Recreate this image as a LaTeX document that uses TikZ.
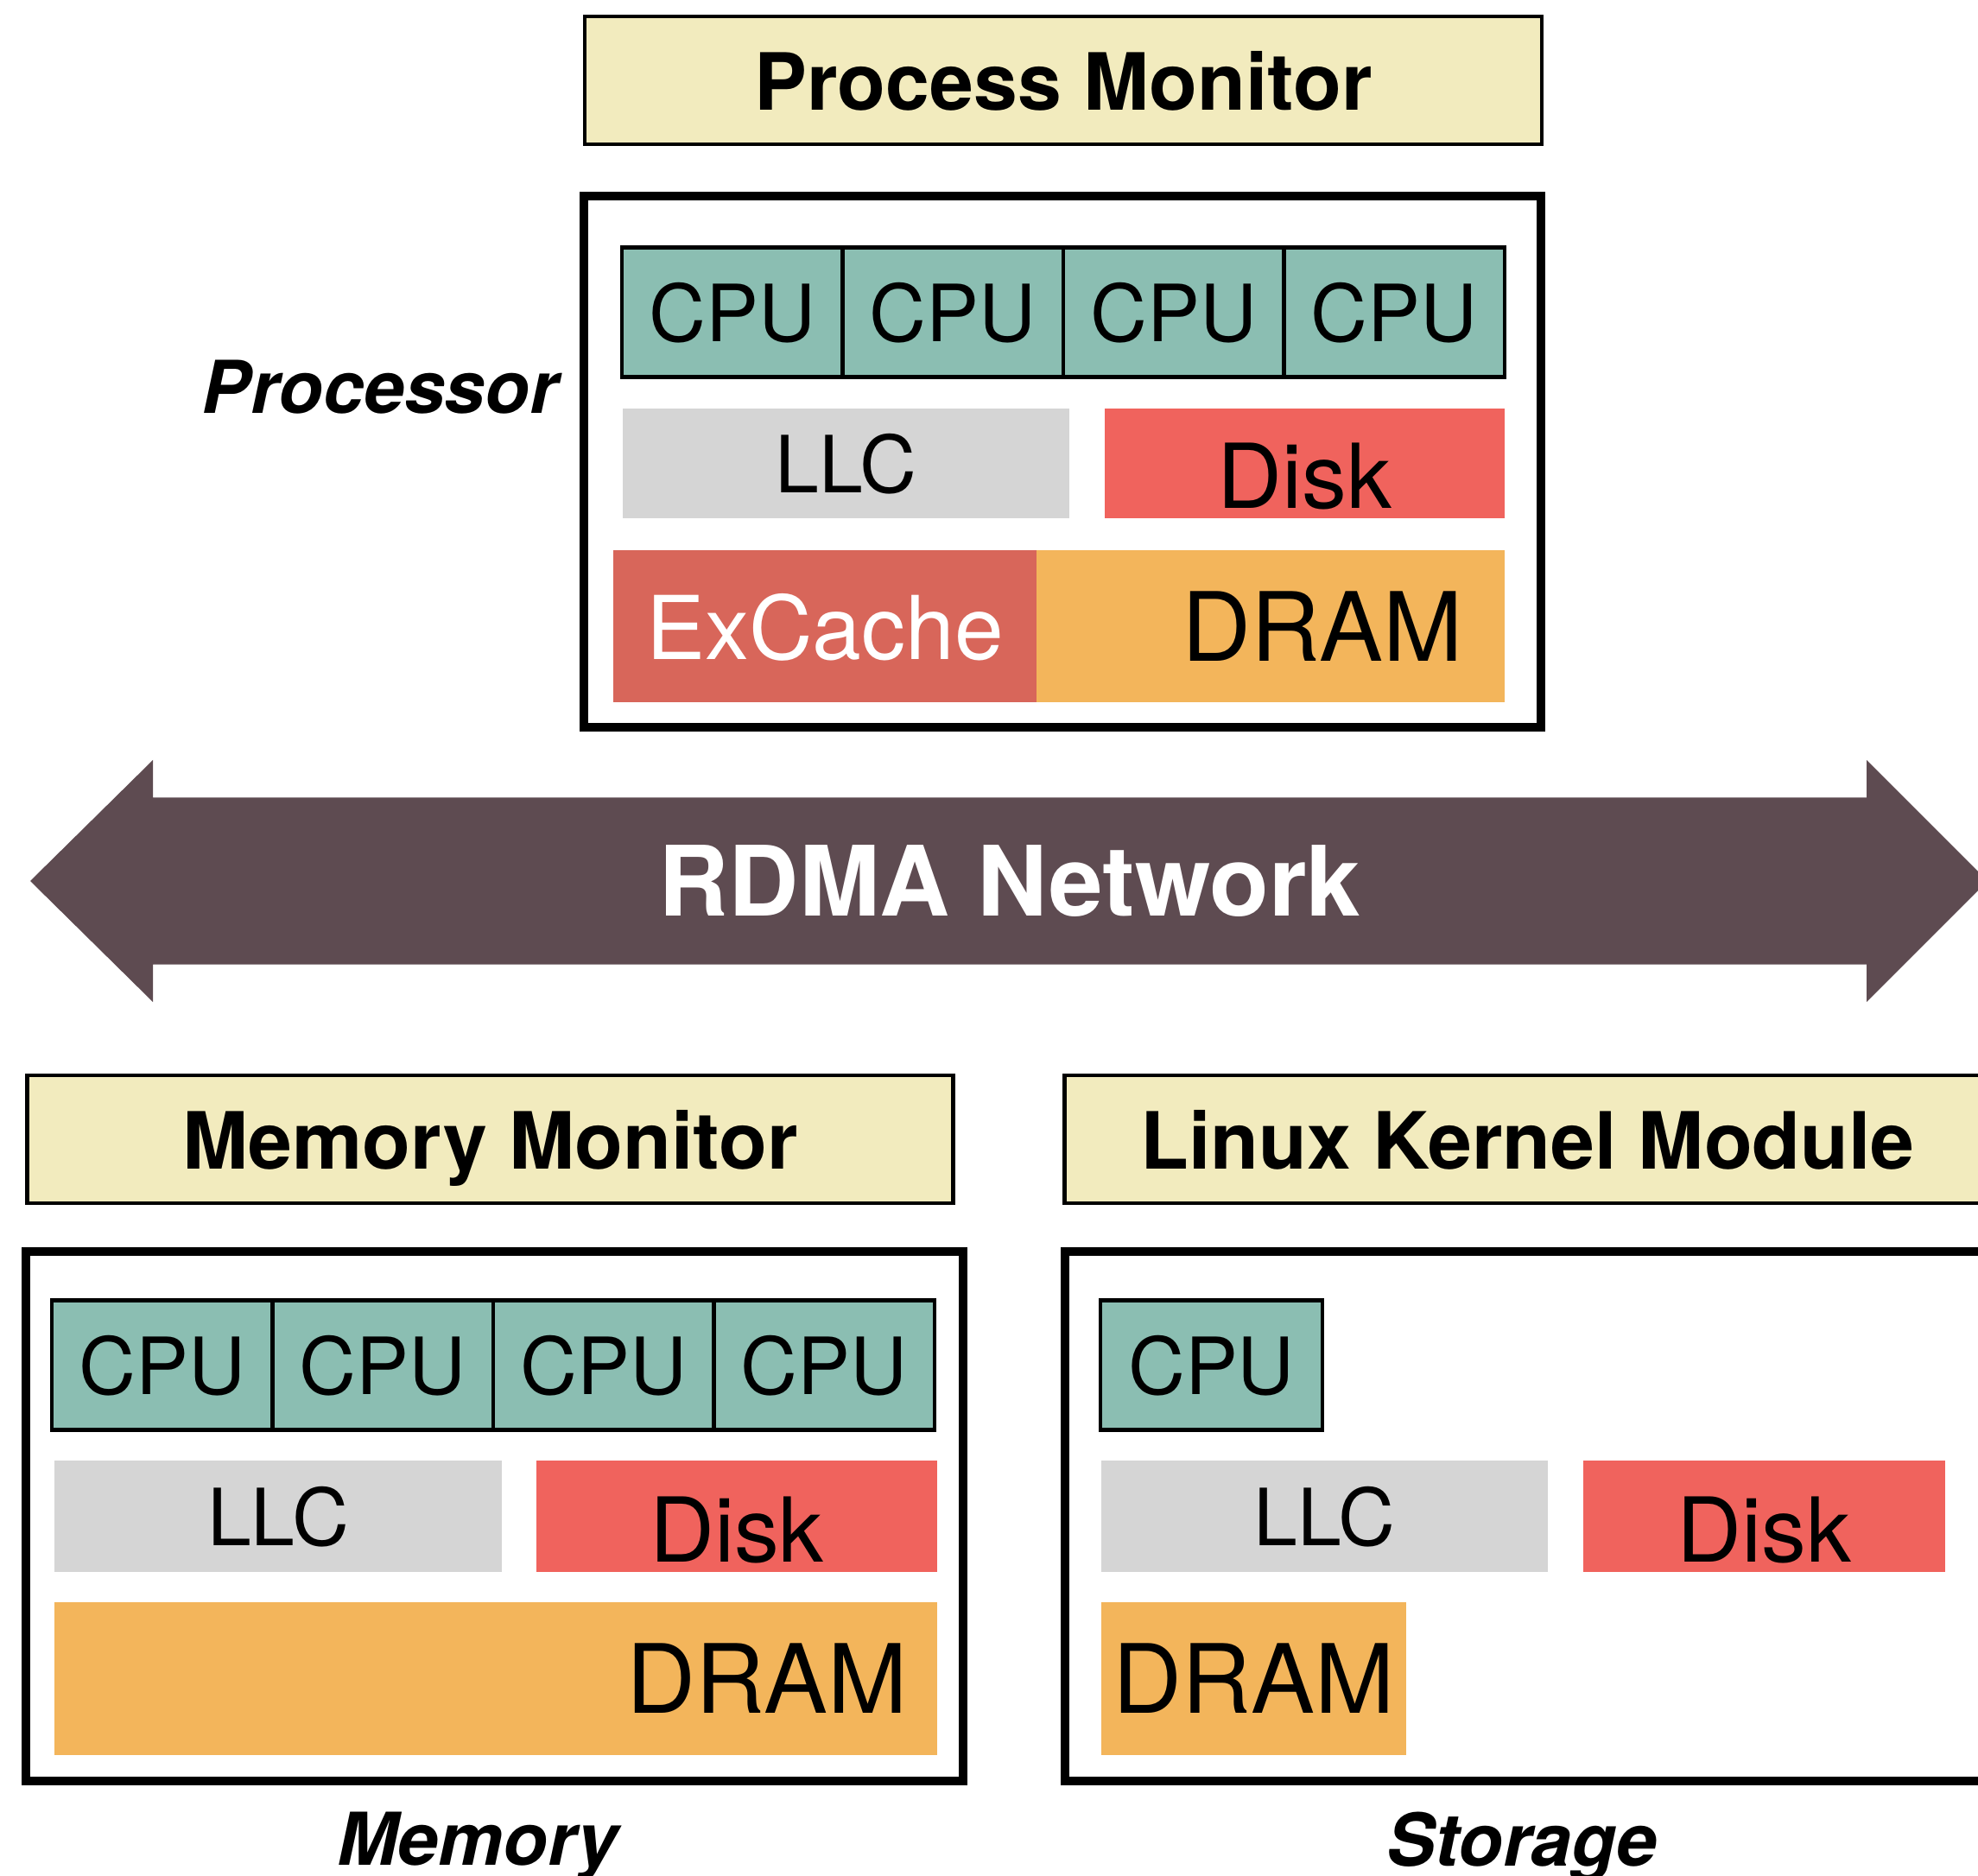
\documentclass[tikz,border=0pt]{standalone}
\usepackage{fontspec}
\setmainfont{TeX Gyre Heros}
\usetikzlibrary{positioning}
\definecolor{TitleYellow}{RGB}{242,235,190}
\definecolor{CpuTeal}{RGB}{139,190,178}
\definecolor{LlcGray}{RGB}{213,213,213}
\definecolor{DiskRed}{RGB}{240,99,93}
\definecolor{CacheRed}{RGB}{216,102,90}
\definecolor{DramOrange}{RGB}{243,181,91}
\definecolor{NetBrown}{RGB}{94,75,81}
\tikzset{
  monitor/.style={draw=black,line width=1.4pt,fill=TitleYellow,minimum width=11.08cm,minimum height=1.48cm,inner sep=0pt,text depth=0pt,font=\fontsize{26}{31}\selectfont\bfseries},
  chassis/.style={draw=black,line width=2.85pt,fill=white,minimum width=11.08cm,minimum height=6.15cm,inner sep=0pt},
  part/.style={inner sep=0pt,outer sep=0pt,text depth=0pt},
}
\tikzset{cpu/.style={part,draw=black,line width=1.2pt,fill=CpuTeal,minimum width=2.555cm,minimum height=1.5cm,font=\fontsize{26}{31}\selectfont},
  llc/.style={part,fill=LlcGray,minimum height=1.27cm,font=\fontsize{26}{31}\selectfont},
  disk/.style={part,fill=DiskRed,minimum height=1.27cm,text height=1.05cm,font=\fontsize{29.5}{35}\selectfont},
  xcache/.style={part,fill=CacheRed,text=white,minimum height=1.76cm,font=\fontsize{29}{35}\selectfont},
  dram/.style={part,fill=DramOrange,minimum height=1.76cm,font=\fontsize{31.5}{38}\selectfont},
  role/.style={inner sep=0pt,text depth=0pt,font=\fontsize{24}{29}\selectfont\bfseries\itshape},
  net/.style={text=white,inner sep=0pt,text depth=0pt,font=\fontsize{32}{38}\selectfont\bfseries}}

\begin{document}
\begin{tikzpicture}
\useasboundingbox (0,0) rectangle (22.9,-21.72);
% processor node
\node[monitor](pmon) at (12.31,-0.93){Process Monitor};
\node[chassis](procbox) at (12.30,-5.345){};
\node[cpu](pcpu1) at (8.4775,-3.615){CPU};\node[cpu,right=0pt of pcpu1](pcpu2){CPU};
\node[cpu,right=0pt of pcpu2](pcpu3){CPU};\node[cpu,right=0pt of pcpu3](pcpu4){CPU};
\node[llc,minimum width=5.17cm](pllc) at (9.795,-5.365){LLC};
\node[disk,minimum width=4.63cm](pdisk) at (15.105,-5.365){Disk};
\node[xcache,minimum width=4.9cm](pxcache) at (9.55,-7.25){ExCache};
\node[dram,text width=4.46cm,inner xsep=0.48cm,align=right](pdram) at (14.71,-7.25){DRAM};
\node[role](proclab) at (4.40,-4.475){Processor};
% network
\fill[NetBrown] (0.35,-10.2)--(1.77,-8.8)--(1.77,-9.235)--(21.61,-9.235)--(21.61,-8.8)--(23.01,-10.2)--(21.61,-11.6)--(21.61,-11.165)--(1.77,-11.165)--(1.77,-11.6)--cycle;
\node[net](rdma) at (11.69,-10.2){RDMA Network};
% memory node
\node[monitor,minimum width=10.72cm](mmon) at (5.675,-13.19){Memory Monitor};
\node[chassis,minimum width=10.85cm,minimum height=6.13cm](membox) at (5.725,-17.555){};
\node[cpu](mcpu1) at (1.8775,-15.805){CPU};\node[cpu,right=0pt of mcpu1](mcpu2){CPU};
\node[cpu,right=0pt of mcpu2](mcpu3){CPU};\node[cpu,right=0pt of mcpu3](mcpu4){CPU};
\node[llc,minimum width=5.18cm,minimum height=1.29cm](mllc) at (3.22,-17.555){LLC};
\node[disk,minimum width=4.64cm,minimum height=1.29cm](mdisk) at (8.53,-17.555){Disk};
\node[dram,minimum height=1.77cm,text width=9.54cm,inner xsep=0.34cm,align=right](mdram) at (5.74,-19.435){DRAM};
\node[role](memlab) at (5.53,-21.29){Memory};
% storage node
\node[monitor,minimum width=10.72cm](lkm) at (17.685,-13.19){Linux Kernel Module};
\node[chassis,minimum width=10.85cm,minimum height=6.13cm](storbox) at (17.755,-17.555){};
\node[cpu,minimum width=2.57cm](scpu) at (14.025,-15.805){CPU};
\node[llc,minimum width=5.17cm,minimum height=1.29cm](sllc) at (15.335,-17.555){LLC};
\node[disk,minimum width=4.19cm,minimum height=1.29cm](sdisk) at (20.425,-17.555){Disk};
\node[dram,minimum width=3.53cm,minimum height=1.77cm](sdram) at (14.515,-19.435){DRAM};
\node[role](storlab) at (17.62,-21.29){Storage};
\end{tikzpicture}
\end{document}
